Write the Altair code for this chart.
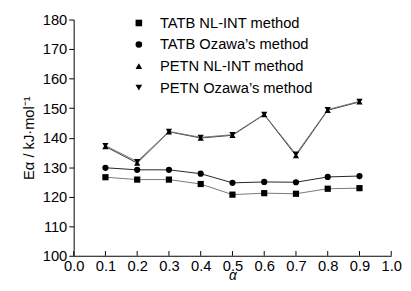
import altair as alt
import pandas as pd

alpha = [0.1, 0.2, 0.3, 0.4, 0.5, 0.6, 0.7, 0.8, 0.9]
series_names = ["TATB NL-INT method", "TATB Ozawa\u2019s method",
                "PETN NL-INT method", "PETN Ozawa\u2019s method"]
tatb_nlint = [126.6, 125.8, 125.8, 124.3, 120.7, 121.2, 121.0, 122.7, 122.9]
tatb_ozawa = [129.8, 129.1, 129.1, 127.8, 124.7, 125.0, 124.9, 126.7, 127.0]
petn_nlint = [137.0, 131.4, 142.0, 139.9, 140.8, 147.8, 133.9, 149.3, 152.1]
petn_ozawa = [137.3, 131.9, 142.1, 140.1, 141.0, 147.9, 134.4, 149.5, 152.3]
x_ticks = [0.0, 0.1, 0.2, 0.3, 0.4, 0.5, 0.6, 0.7, 0.8, 0.9, 1.0]
y_ticks = [100, 110, 120, 130, 140, 150, 160, 170, 180]

rows = []
for name, vals in zip(series_names, [tatb_nlint, tatb_ozawa, petn_nlint, petn_ozawa]):
    for a, v in zip(alpha, vals):
        rows.append({"series": name, "line": name + " ", "alpha": a, "E": v})
df = pd.DataFrame(rows)

FONT = "Liberation Sans"
xs = alt.Scale(domain=[0, 1])
ys = alt.Scale(domain=[100, 180])
x_axis = alt.Axis(values=x_ticks, format=".1f", title="\u03b1", grid=False,
                  tickSize=0, labelPadding=3, labelOverlap=False, labelFlush=False,
                  titleY=24, titleBaseline="alphabetic", titleFontSize=14,
                  titleFontStyle="italic", titleFontWeight="normal")
y_axis = alt.Axis(values=y_ticks, title="E\u03b1 / kJ\u00b7mol\u207b\u00b9", grid=False,
                  tickSize=5, labelPadding=2, titlePadding=6, labelOverlap=False,
                  labelFlush=False, titleFontWeight="normal")

lines = alt.Chart(df).mark_line(strokeWidth=1).encode(
    x=alt.X("alpha:Q", scale=xs, axis=x_axis),
    y=alt.Y("E:Q", scale=ys, axis=y_axis),
    color=alt.Color("line:N",
                    scale=alt.Scale(domain=[s + " " for s in series_names],
                                    range=["#777777", "#222222", "#333333", "#777777"]),
                    legend=None),
)

points = alt.Chart(df).mark_point(filled=True, size=40, opacity=1, color="black").encode(
    x=alt.X("alpha:Q", scale=xs, axis=x_axis),
    y=alt.Y("E:Q", scale=ys, axis=y_axis),
    shape=alt.Shape("series:N", sort=series_names,
                    scale=alt.Scale(domain=series_names,
                                    range=["square", "circle", "triangle-up", "triangle-down"]),
                    legend=alt.Legend(title=None, orient="none", legendX=59, legendY=-4,
                                      labelFontSize=15, labelFont=FONT, symbolSize=45,
                                      symbolFillColor="black", symbolStrokeColor="black",
                                      rowPadding=6, labelOffset=14, labelLimit=300,
                                      labelColor="black")),
)

tickdf = pd.DataFrame({"t": x_ticks})
xticks = alt.Chart(tickdf).mark_rule(color="black", strokeWidth=1).encode(
    x=alt.X("t:Q", scale=xs, axis=x_axis),
    y=alt.Y(datum=100, scale=ys, axis=y_axis),
    y2=alt.datum(101.6),
)

chart = alt.layer(lines, xticks, points).properties(
    width=324, height=241,
    background="white",
    autosize=alt.AutoSizeParams(type="none"),
    padding={"left": 67, "top": 9, "right": 12, "bottom": 25},
).configure_view(stroke=None).configure_axis(
    labelFont=FONT, titleFont=FONT, labelFontSize=15, titleFontSize=15,
    labelColor="black", titleColor="black", domainColor="black", tickColor="black",
    domainWidth=1,
)

chart.save("out.html", embed_options={"renderer": "svg", "actions": False})
